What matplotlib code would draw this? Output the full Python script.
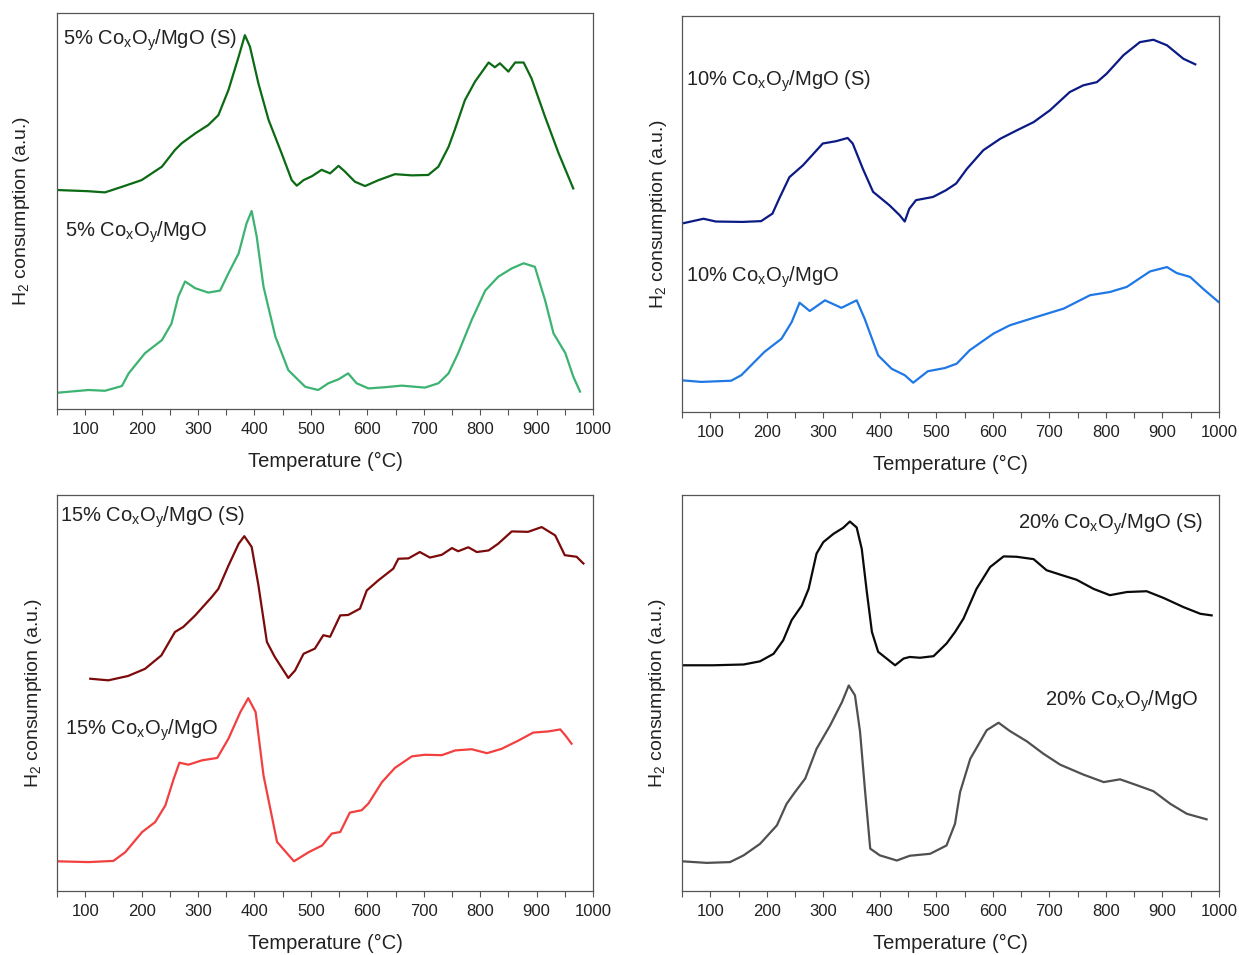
import matplotlib
matplotlib.use("Agg")
import matplotlib.pyplot as plt
from matplotlib.ticker import MultipleLocator, FixedLocator

plt.rcParams['font.family'] = ['Liberation Sans', 'DejaVu Sans']
plt.rcParams['mathtext.fontset'] = 'custom'
plt.rcParams['mathtext.rm'] = 'Liberation Sans'
plt.rcParams['mathtext.it'] = 'Liberation Sans:italic'
plt.rcParams['mathtext.default'] = 'rm'

# ---------------- data (temperature in °C, H2 consumption in a.u.) ----------------
p1_s_T = [50,105,135,165,200,236,259,271,295,318,336,354,372,383,392,407,425,448,466,475,487,502,519,534,549,560,578,596,620,649,679,708,726,744,755,773,791,815,826,835,850,862,877,891,915,939,965]
p1_s_v = [55.3,55.0,54.7,56.1,57.8,61.2,65.4,67.1,69.6,71.7,74.2,80.6,89.0,94.4,91.5,82.2,73.0,64.6,57.8,56.4,57.8,58.8,60.4,59.5,61.4,60.0,57.4,56.3,57.8,59.3,59.0,59.1,61.2,66.2,70.5,78.0,82.7,87.5,86.3,87.3,85.2,87.5,87.5,83.5,73.8,64.6,55.7]
p1_u_T = [50,106,135,165,177,206,236,253,265,277,295,318,339,354,372,386,395,404,416,437,460,490,513,531,549,566,581,602,631,661,702,726,744,761,785,809,832,856,877,897,915,930,951,965,977]
p1_u_v = [4.1,4.8,4.6,5.8,9.0,14.1,17.4,21.6,28.4,32.2,30.5,29.4,29.9,34.3,39.3,46.9,50.0,43.5,30.9,18.3,9.8,5.6,4.8,6.5,7.5,9.0,6.5,5.2,5.5,5.9,5.4,6.5,9.0,14.1,22.5,29.9,33.4,35.5,36.8,35.9,27.5,19.1,14.1,8.2,4.4]

p2_s_T = [50,88,110,157,190,210,222,240,264,299,323,343,352,370,388,417,435,444,452,464,494,517,535,554,583,613,642,672,701,736,760,784,801,831,860,884,908,937,958]
p2_s_v = [47.6,48.8,48.1,48.0,48.2,50.1,53.9,59.3,62.3,67.8,68.4,69.2,67.8,61.4,55.6,52.2,49.7,48.1,51.3,53.5,54.3,56.0,57.7,61.4,66.1,69.0,71.1,73.2,76.2,80.8,82.5,83.3,85.4,90.1,93.4,94.0,92.6,89.2,87.8]
p2_u_T = [50,84,137,155,196,226,244,258,276,303,332,359,373,397,421,444,459,485,515,536,559,601,630,677,725,772,807,837,878,908,925,949,972,999]
p2_u_v = [8.0,7.6,7.9,9.3,15.2,18.5,22.7,27.6,25.5,28.2,26.3,28.2,23.6,14.3,10.9,9.3,7.4,10.3,11.1,12.2,15.6,19.8,21.9,24.0,26.1,29.5,30.3,31.6,35.5,36.6,35.1,34.1,31.1,27.8]

p3_s_T = [109,141,176,206,235,259,274,295,324,336,354,372,382,395,407,422,436,460,472,487,507,522,534,552,566,587,599,620,646,655,673,693,711,732,750,761,779,794,815,832,856,885,909,933,950,971,983]
p3_s_v = [53.6,53.2,54.3,56.1,59.5,65.4,66.7,69.6,74.2,76.3,82.2,87.7,89.6,86.9,77.2,62.9,59.1,53.8,55.7,59.9,61.2,64.6,64.2,69.6,69.7,71.3,75.9,78.5,81.4,83.9,84.0,85.6,84.2,84.9,86.6,85.8,86.8,85.6,86.0,87.7,90.8,90.7,91.9,89.8,84.8,84.4,82.7]
p3_u_T = [50,106,150,171,201,224,242,257,267,283,307,334,354,375,389,402,416,440,470,496,520,537,552,569,590,602,626,649,679,702,732,756,785,812,838,868,894,921,942,951,962]
p3_u_v = [7.5,7.3,7.6,9.8,14.9,17.4,21.6,28.4,32.4,31.9,33.0,33.6,38.5,45.2,48.7,45.2,29.2,12.4,7.5,9.8,11.5,14.5,14.9,19.8,20.4,22.1,27.5,31.1,34.0,34.4,34.3,35.5,35.8,34.8,35.9,38.0,40.0,40.3,40.8,39.3,37.2]

p4_s_T = [50,105,159,188,212,229,244,262,274,288,300,318,335,347,359,368,377,386,397,412,427,442,453,471,495,518,533,548,571,595,619,642,672,695,719,748,778,807,837,872,902,937,967,987]
p4_s_v = [57.0,57.0,57.2,58.0,59.9,63.3,68.4,72.1,76.3,85.2,88.1,90.2,91.7,93.3,91.8,86.4,75.5,65.4,60.4,58.7,57.0,58.7,59.1,58.9,59.3,62.5,65.4,68.8,76.3,81.8,84.5,84.4,83.8,81.0,79.9,78.6,76.3,74.7,75.5,75.7,74.0,71.7,70.0,69.6]
p4_u_T = [50,94,135,159,188,218,235,250,268,288,312,333,345,356,365,374,383,400,430,453,489,518,533,542,560,577,589,610,630,660,689,719,760,796,825,855,884,914,943,978]
p4_u_v = [7.5,7.1,7.3,9.0,11.9,16.6,22.0,25.0,28.4,35.9,41.8,47.7,51.9,49.4,40.2,25.0,10.7,9.0,7.7,8.9,9.4,11.5,17.0,25.0,33.4,37.6,40.6,42.5,40.4,37.8,34.7,31.9,29.4,27.5,28.2,26.7,25.2,22.0,19.5,18.1]

labels_s = [r'5% Co$_{x}$O$_{y}$/MgO (S)', r'10% Co$_{x}$O$_{y}$/MgO (S)',
            r'15% Co$_{x}$O$_{y}$/MgO (S)', r'20% Co$_{x}$O$_{y}$/MgO (S)']
labels_u = [r'5% Co$_{x}$O$_{y}$/MgO', r'10% Co$_{x}$O$_{y}$/MgO',
            r'15% Co$_{x}$O$_{y}$/MgO', r'20% Co$_{x}$O$_{y}$/MgO']
xticks_major = [100, 200, 300, 400, 500, 600, 700, 800, 900, 1000]

# ---------------- figure ----------------
W, H = 1239, 955
fig = plt.figure(figsize=(W / 100, H / 100), dpi=100)

def px_axes(x0, y0, x1, y1):
    return fig.add_axes([x0 / W, 1 - y1 / H, (x1 - x0) / W, (y1 - y0) / H])

text_c = '#222222'
frame_c = '#555555'

panels = [
    dict(box=(57, 13, 593, 409), s=(p1_s_T, p1_s_v), u=(p1_u_T, p1_u_v),
         cs='#0b6a13', cu='#3cb371', ylx=-0.046,
         ts=(0.012, 0.932, 'left'), tu=(0.015, 0.447, 'left')),
    dict(box=(682, 16, 1219, 412), s=(p2_s_T, p2_s_v), u=(p2_u_T, p2_u_v),
         cs='#0b1a84', cu='#1f78e6', ylx=-0.024,
         ts=(0.008, 0.835, 'left'), tu=(0.008, 0.34, 'left')),
    dict(box=(57, 495, 593, 891), s=(p3_s_T, p3_s_v), u=(p3_u_T, p3_u_v),
         cs='#7d0a0a', cu='#f23f3f', ylx=-0.024,
         ts=(0.006, 0.943, 'left'), tu=(0.015, 0.407, 'left')),
    dict(box=(682, 495, 1219, 891), s=(p4_s_T, p4_s_v), u=(p4_u_T, p4_u_v),
         cs='#0a0a0a', cu='#505050', ylx=-0.027,
         ts=(0.97, 0.925, 'right'), tu=(0.962, 0.48, 'right')),
]

for i, p in enumerate(panels):
    ax = px_axes(*p['box'])
    ax.plot(p['s'][0], p['s'][1], color=p['cs'], lw=1.6)
    ax.plot(p['u'][0], p['u'][1], color=p['cu'], lw=1.6)
    ax.set_xlim(50, 1000)
    ax.set_ylim(0, 100)
    ax.xaxis.set_major_locator(FixedLocator(xticks_major))
    ax.xaxis.set_minor_locator(MultipleLocator(50))
    ax.set_yticks([])
    ax.tick_params(axis='x', which='both', direction='out', length=4, width=0.8,
                   color=frame_c, labelsize=12, labelcolor=text_c, pad=5)
    for sp in ax.spines.values():
        sp.set_color(frame_c)
        sp.set_linewidth(0.9)
    ax.set_xlabel('Temperature (°C)', fontsize=14.5, color=text_c, labelpad=11)
    ax.set_ylabel(r'H$_{2}$ consumption (a.u.)', fontsize=14, color=text_c)
    ax.yaxis.set_label_coords(p['ylx'], 0.5)
    x, y, ha = p['ts']
    ax.text(x, y, labels_s[i], transform=ax.transAxes, ha=ha, va='center',
            fontsize=14.5, color=text_c)
    x, y, ha = p['tu']
    ax.text(x, y, labels_u[i], transform=ax.transAxes, ha=ha, va='center',
            fontsize=14.5, color=text_c)

fig.savefig('out.png', dpi=100)
